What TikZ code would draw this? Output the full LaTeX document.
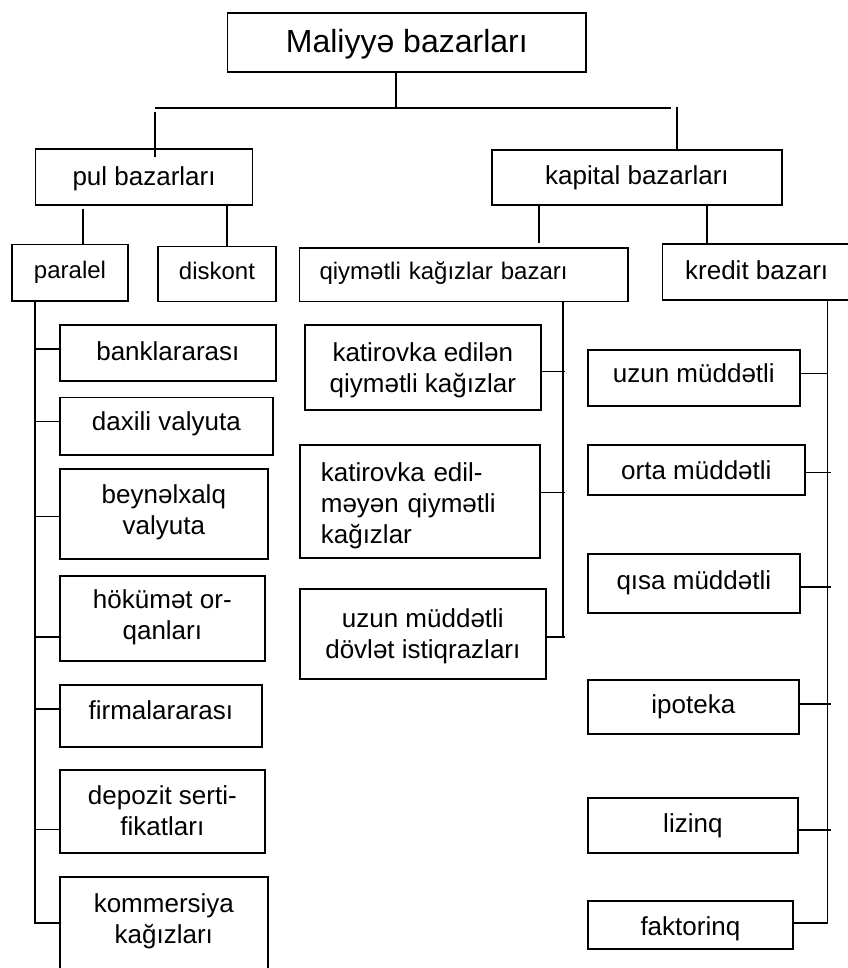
\documentclass[tikz,border=0pt]{standalone}
\usepackage{fontspec}
\setmainfont{Liberation Sans}
\begin{document}
\begin{tikzpicture}[x=1pt,y=-1pt,line width=1.7pt,
  box/.style={draw, line width=1.7pt, anchor=north west, inner xsep=2pt, inner ysep=0pt,
    align=center, font=\fontsize{26}{31}\selectfont},
  smallbox/.style={box, font=\fontsize{24}{29}\selectfont},
  titlebox/.style={box, font=\fontsize{32}{38}\selectfont},
  % distance from the top edge to the text baseline, and the rest of the box below it
  tb/.style 2 args={text height=#1pt, text depth=#2pt}]

\useasboundingbox (0,0) rectangle (847,968);

% --- top levels ---
\node[titlebox, minimum width=358.6pt, tb={39.4}{19.6}] (root) at (226.7,12.3) {Maliyyə bazarları};
\node[box, minimum width=217pt, tb={36.3}{19.7}] (pul) at (34.7,148) {pul bazarları};
\node[box, minimum width=290.3pt, tb={35}{20}] (kapital) at (491,149) {kapital bazarları};

\node[smallbox, minimum width=116.3pt, tb={34}{22.3}] (paralel) at (11,243.7) {paralel};
\node[smallbox, minimum width=118.3pt, tb={32.6}{22.4}] (diskont) at (157,245.7) {diskont};
\node[smallbox, align=left, text width=288.6pt, inner xsep=20pt, tb={32}{21.7}] (qiy) at (298.7,247) {qiymətli kağızlar bazarı};
\node[box, minimum width=188.3pt, tb={35.7}{20}] (kredit) at (661.7,243.3) {kredit bazarı};

% --- money market branches ---
\node[box, minimum width=216pt, tb={35.3}{20.7}] (bank) at (59,324) {banklararası};
\node[box, minimum width=213pt, tb={33.3}{24}] (daxili) at (59,396.7) {daxili valyuta};
\node[box, minimum width=208pt, tb={65.3}{24.7}] (beyn) at (59,468) {beynəlxalq\\valyuta};
\node[box, minimum width=205pt, tb={64}{21}] (hok) at (59,575) {hökümət or-\\qanları};
\node[box, minimum width=202pt, tb={34.3}{27.7}] (firma) at (59,684) {firmalararası};
\node[box, minimum width=205pt, tb={66}{17}] (depozit) at (59,769) {depozit serti-\\fikatları};
\node[box, minimum width=208pt, tb={66.7}{33.3}] (komm) at (59,876) {kommersiya\\kağızları};

% --- securities market branches ---
\node[box, minimum width=236pt, tb={68}{17}] (katEd) at (304,324) {katirovka edilən\\qiymətli kağızlar};
\node[box, align=left, text width=198pt, inner xsep=21pt, tb={37}{76}] (katEdm) at (299,444) {katirovka edil-\\məyən qiymətli\\kağızlar};
\node[box, minimum width=246pt, tb={69.7}{20.3}] (dovlet) at (299,588) {uzun müddətli\\dövlət istiqrazları};

% --- credit market branches ---
\node[box, minimum width=212pt, tb={32.7}{23.3}] (uzun) at (587,349) {uzun müddətli};
\node[box, minimum width=217pt, tb={35}{15}] (orta) at (587,444) {orta müddətli};
\node[box, minimum width=212pt, tb={35.3}{24}] (qisa) at (587,553) {qısa müddətli};
\node[box, minimum width=211pt, tb={34}{20}] (ipoteka) at (587,679) {ipoteka};
\node[box, minimum width=210pt, tb={34.7}{20.3}] (lizinq) at (587,797) {lizinq};
\node[box, minimum width=205pt, tb={35}{13.3}] (faktor) at (587,900) {faktorinq};

% --- junction points ---
\coordinate (jTop) at (396,107.7);
\coordinate (jL) at (155.3,107.7);
\coordinate (hEnd) at (670.7,107.7);
\coordinate (jR) at (677,107.3);
\coordinate (pulIn) at (155.3,156.7);
\coordinate (pp) at (83.3,209.3);
\coordinate (pd) at (227.3,204);
\coordinate (kq) at (539.3,243.3);
\coordinate (kk) at (707,204);
\coordinate (Lend) at (34.7,923.3);
\coordinate (Mend) at (563.3,636.7);
\coordinate (Rend) at (827.5,923.3);

% --- upper connectors ---
\draw (root.south -| jTop) -- (jTop);
\draw (jL) -- (hEnd);
\draw ([yshift=-4pt]jL) -- (pulIn);
\draw (jR) -- (jR |- kapital.north);
\draw (pp) -- (pp |- paralel.north);
\draw (pd |- pul.south) -- (pd |- diskont.north);
\draw (kq |- kapital.south) -- (kq);
\draw (kk |- kapital.south) -- (kk |- kredit.north);

% --- left trunk ---
\draw (Lend |- paralel.south) -- (Lend) -- (Lend -| komm.west);
\draw ([yshift=4pt]bank.west) -- ([yshift=4pt]bank.west -| Lend);
\draw ([yshift=4.6pt]daxili.west) -- ([yshift=4.6pt]daxili.west -| Lend);
\draw ([yshift=-2.7pt]beyn.west) -- ([yshift=-2.7pt]beyn.west -| Lend);
\draw ([yshift=-18.5pt]hok.west) -- ([yshift=-18.5pt]hok.west -| Lend);
\draw ([yshift=7pt]firma.west) -- ([yshift=7pt]firma.west -| Lend);
\draw ([yshift=-18.2pt]depozit.west) -- ([yshift=-18.2pt]depozit.west -| Lend);

% --- middle trunk ---
\draw (Mend |- qiy.south) -- (Mend);
\draw (dovlet.east |- Mend) -- (Mend) -- ++(2,0);
\draw ([yshift=-4.2pt]katEd.east) -- ([yshift=-4.2pt]katEd.east -| Mend) -- ++(2,0);
\draw ([yshift=8.8pt]katEdm.east) -- ([yshift=8.8pt]katEdm.east -| Mend) -- ++(2,0);

% --- right trunk ---
\draw (Rend |- kredit.south) -- (Rend) -- (Rend -| faktor.east);
\draw ([yshift=4.3pt]uzun.east) -- ([yshift=4.3pt]uzun.east -| Rend);
\draw ([yshift=-2.7pt]orta.east) -- ([yshift=-2.7pt]orta.east -| Rend) -- ++(3,0);
\draw ([yshift=-3.3pt]qisa.east) -- ([yshift=-3.3pt]qisa.east -| Rend) -- ++(3,0);
\draw ([yshift=2.7pt]ipoteka.east) -- ([yshift=2.7pt]ipoteka.east -| Rend) -- ++(3,0);
\draw ([yshift=-4.5pt]lizinq.east) -- ([yshift=-4.5pt]lizinq.east -| Rend) -- ++(3,0);
\end{tikzpicture}
\end{document}
